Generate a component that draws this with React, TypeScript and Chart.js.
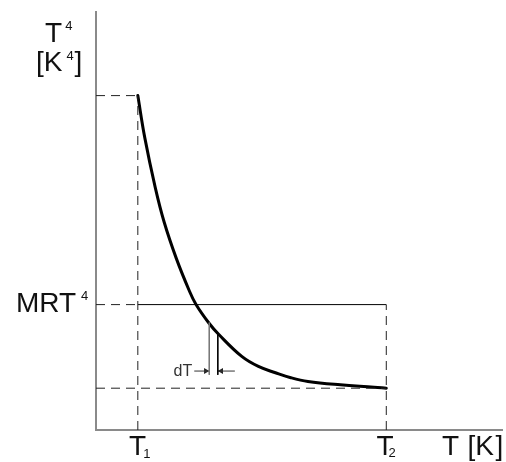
import React, { useEffect, useRef } from "react";
import { Chart, registerables } from "chart.js";

Chart.register(...registerables);

// ---- data (arbitrary units) ----
const curveT = [1.03, 1.2, 1.46, 1.68, 1.98, 2.29, 2.46, 2.78, 3.02, 3.59, 4.0, 4.42, 4.8, 5.22, 6.02, 6.85, 7.15];
const curveT4 = [8.0, 7.0, 5.8, 4.97, 4.1, 3.35, 3.01, 2.56, 2.29, 1.76, 1.52, 1.37, 1.25, 1.16, 1.08, 1.025, 1.0];
const T1 = 1.03;
const T2 = 7.15;
const T4atT1 = 8.0;
const MRT4 = 3.0;
const T4atT2 = 1.0;
const dTLeft = 2.79;
const dTRight = 3.0;
const dTLeftTop = 2.57;
const dTRightTop = 2.31;
const dTBottom = 1.32;
const dTArrowY = 1.41;
const dTArrowStart = 2.42;
const dTArrowEnd = 3.42;
const xMax = 10;
const yMax = 10;

const FONT = '"Liberation Sans", Arial, sans-serif';

const labelsPlugin = {
  id: "labelsPlugin",
  afterDraw(chart: any) {
    const ctx = chart.ctx as CanvasRenderingContext2D;
    const xs = chart.scales.x;
    const ys = chart.scales.y;
    const area = chart.chartArea;
    ctx.save();
    ctx.fillStyle = "#111";
    ctx.textBaseline = "alphabetic";
    ctx.textAlign = "left";
    const big = `28px ${FONT}`;
    const small = `13px ${FONT}`;
    const put = (t: string, px: number, py: number, f: string) => {
      ctx.font = f;
      ctx.fillText(t, px, py);
    };
    // y axis title
    const top = area.top;
    put("T", 45, top + 30, big);
    put("4", 65.3, top + 17.5, small);
    put("[K", 36, top + 59, big);
    put("4", 66.5, top + 47.5, small);
    put("]", 74.5, top + 59, big);
    // MRT^4
    const yM = ys.getPixelForValue(MRT4);
    put("MRT", 16, yM + 7.7, big);
    put("4", 81, yM - 4.5, small);
    // x labels
    const base = area.bottom + 25;
    const x1 = xs.getPixelForValue(T1);
    put("T", x1 - 8.7, base, big);
    put("1", x1 + 5.4, base + 2.7, small);
    const x2 = xs.getPixelForValue(T2);
    put("T", x2 - 9.7, base, big);
    put("2", x2 + 2.3, base + 1.6, small);
    // x axis title
    put("T", 442, base, big);
    put("[K", 467.5, base, big);
    put("]", 495.5, base, big);
    // dT
    ctx.fillStyle = "#333";
    put("dT", 173.5, ys.getPixelForValue(dTArrowY) + 5, `16px ${FONT}`);
    ctx.restore();
  },
};

export default function App() {
  const ref = useRef<HTMLCanvasElement | null>(null);

  useEffect(() => {
    if (!ref.current) return;
    const dash = [9, 6];
    const seg = (pts: { x: number; y: number }[], extra: any = {}) => ({
      data: pts,
      borderColor: "#000",
      borderWidth: 1,
      pointRadius: 0,
      fill: false,
      ...extra,
    });
    const headOffset = 0.085;
    const chart = new Chart(ref.current, {
      type: "line",
      data: {
        datasets: [
          seg([{ x: 0, y: T4atT1 }, { x: T1, y: T4atT1 }], { borderDash: dash, borderColor: "#222" }),
          seg([{ x: T1, y: 0 }, { x: T1, y: T4atT1 }], { borderDash: dash, borderColor: "#222" }),
          seg([{ x: 0, y: MRT4 }, { x: T1, y: MRT4 }], { borderDash: dash, borderColor: "#222" }),
          seg([{ x: T1, y: MRT4 }, { x: T2, y: MRT4 }]),
          seg([{ x: T2, y: 0 }, { x: T2, y: MRT4 }], { borderDash: dash, borderColor: "#222" }),
          seg([{ x: 0, y: T4atT2 }, { x: T2, y: T4atT2 }], { borderDash: dash, borderColor: "#222" }),
          seg([{ x: dTLeft, y: dTLeftTop }, { x: dTLeft, y: dTBottom }], { borderColor: "#777" }),
          seg([{ x: dTRight, y: dTRightTop }, { x: dTRight, y: dTBottom }]),
          seg([{ x: dTArrowStart, y: dTArrowY }, { x: dTLeft, y: dTArrowY }], { borderColor: "#333" }),
          seg([{ x: dTRight, y: dTArrowY }, { x: dTArrowEnd, y: dTArrowY }], { borderColor: "#333" }),
          {
            data: [
              { x: dTLeft - headOffset, y: dTArrowY },
              { x: dTRight + headOffset, y: dTArrowY },
            ],
            showLine: false,
            pointStyle: "triangle",
            pointRadius: 3.5,
            pointRotation: [90, 270],
            pointBackgroundColor: "#222",
            pointBorderColor: "#222",
            pointBorderWidth: 0,
          },
          seg(
            curveT.map((t, i) => ({ x: t, y: curveT4[i] })),
            { borderWidth: 3, tension: 0.4, borderColor: "#000", borderCapStyle: "round", borderJoinStyle: "round" }
          ),
        ],
      },
      options: {
        responsive: false,
        animation: false,
        devicePixelRatio: 1,
        layout: { padding: { left: 96, top: 12, right: 0, bottom: 32 } },
        plugins: { legend: { display: false }, tooltip: { enabled: false } },
        elements: { line: { tension: 0 } },
        scales: {
          x: {
            type: "linear",
            min: 0,
            max: xMax,
            grid: { display: false, drawTicks: false, tickLength: 0 },
            ticks: { display: false },
            border: { display: true, color: "#8a8a8a", width: 2 },
          },
          y: {
            type: "linear",
            min: 0,
            max: yMax,
            grid: { display: false, drawTicks: false, tickLength: 0 },
            ticks: { display: false },
            border: { display: true, color: "#8a8a8a", width: 2 },
          },
        },
      },
      plugins: [labelsPlugin],
    } as any);
    return () => chart.destroy();
  }, []);

  return (
    <div style={{ position: "fixed", left: 0, top: 0, width: 506, height: 462, background: "#fff" }}>
      <canvas ref={ref} width={506} height={462} />
    </div>
  );
}
